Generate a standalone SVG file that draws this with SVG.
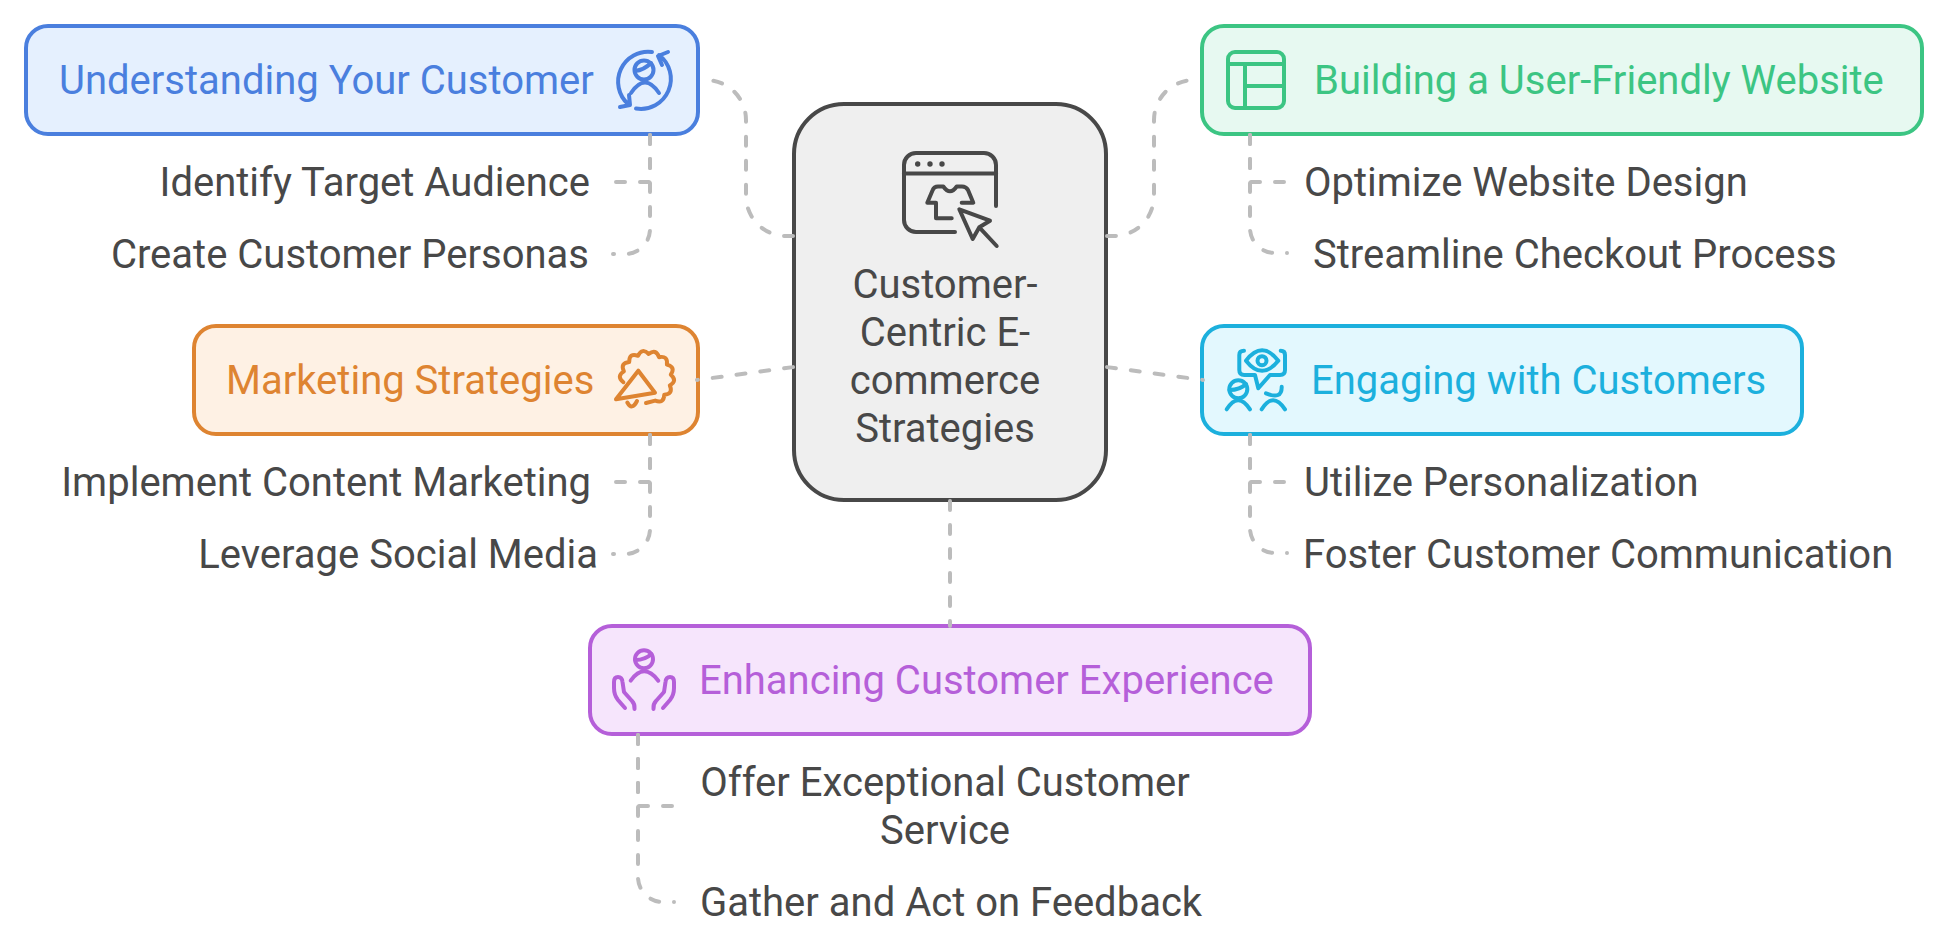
<svg xmlns="http://www.w3.org/2000/svg" width="1948" height="950" viewBox="0 0 1948 950">
<style>
text{font-family:Roboto,"Liberation Sans",sans-serif;font-size:40px;fill:#484848}
.box{stroke-width:4}
.ic{fill:none;stroke-width:4;stroke-linecap:round;stroke-linejoin:round}
.conn path{fill:none;stroke:#BCBCBC;stroke-width:4;stroke-linecap:round;stroke-dasharray:9 15;stroke-dashoffset:-1}
.m{text-anchor:middle}.e{text-anchor:end}
#n1 .box{fill:#E5F0FE;stroke:#4A7FDE}#n1 .ic{stroke:#4A7FDE}#n1 text{fill:#4A7FDE}
#n2 .box{fill:#E7F9F1;stroke:#3CC583}#n2 .ic{stroke:#3CC583}#n2 text{fill:#3CC583}
#n3 .box{fill:#FEF1E4;stroke:#DE8431}#n3 .ic{stroke:#DE8431}#n3 text{fill:#DE8431}
#n4 .box{fill:#E3F8FE;stroke:#1CB0DD}#n4 .ic{stroke:#1CB0DD}#n4 text{fill:#1CB0DD}
#n5 .box{fill:#F6E5FC;stroke:#B55FD9}#n5 .ic{stroke:#B55FD9}#n5 text{fill:#B55FD9}
</style>
<g id="center">
<rect x="794" y="104" width="312" height="396" rx="50" fill="#EFEFEF" stroke="#484848" stroke-width="4"/>
<g fill="none" stroke="#484848" stroke-width="4" stroke-linecap="round" stroke-linejoin="round">
<path d="M955 232H916A12 12 0 0 1 904 220V165A12 12 0 0 1 916 153H984A12 12 0 0 1 996 165V206"/>
<path d="M904 173.500H996"/>
<path d="M951.700 218.300H936V202.700H927.300L932.700 190Q934 186.500 938 186.500H943.300Q950 196 956.700 186.500H962Q966 186.500 968 190L973.300 202.700H961.700"/>
<path d="M959.300 209.300L990 220.700L979.300 227.300L972.700 239ZM979.300 227.300L996.700 246"/>
</g>
<circle cx="917.700" cy="164" r="2.700" fill="#484848"/><circle cx="930" cy="164" r="2.700" fill="#484848"/><circle cx="942" cy="164" r="2.700" fill="#484848"/>
<text class="m" x="945" y="298">Customer-</text>
<text class="m" x="945" y="346">Centric E-</text>
<text class="m" x="945" y="394">commerce</text>
<text class="m" x="945" y="442">Strategies</text>
</g>
<g id="n1">
<rect class="box" x="26" y="26" width="672" height="108" rx="22"/>
<text x="59" y="94">Understanding Your Customer</text>
<g class="ic">
<path d="M652 52A30 30 0 0 0 628 104M620 107L630 105L629 95"/>
<path d="M636 108.500A30 30 0 0 0 659 55M668 52L658 56L662 65"/>
<circle cx="644" cy="70" r="9.500"/><path d="M635 71Q644 70 651 63"/>
<path d="M631 93Q645 72 659 93"/>
</g>
</g>
<g id="n1a"><text class="e" x="590" y="196">Identify Target Audience</text></g>
<g id="n1b"><text class="e" x="589" y="268">Create Customer Personas</text></g>
<g id="n2">
<rect class="box" x="1202" y="26" width="720" height="108" rx="22"/>
<text x="1314" y="94">Building a User-Friendly Website</text>
<g class="ic">
<rect x="1228" y="52" width="56" height="56" rx="7"/>
<path d="M1228 64H1284M1245 64V108M1245 86H1284"/>
</g>
</g>
<g id="n2a"><text x="1304" y="196">Optimize Website Design</text></g>
<g id="n2b"><text x="1313" y="268">Streamline Checkout Process</text></g>
<g id="n3">
<rect class="box" x="194" y="326" width="504" height="108" rx="22"/>
<text x="226" y="394">Marketing Strategies</text>
<g class="ic">
<path d="M623.400 382.200Q616 376.400 623.900 371.400Q619.900 363 629.200 361.900Q629.200 352.600 638 355.800Q642.200 347.400 648.700 354Q656 348.400 659 357.200Q668.100 355.300 666.900 364.600Q676 366.900 670.800 374.700Q677.900 380.700 669.800 385.400Q673.600 394 664.300 394.700Q663.900 404 655.200 400.600L646 403"/>
<path d="M638.300 370.700L655 392.700L616 399.300Z"/>
<path d="M627.300 402.500Q632 411 637 401"/>
</g>
</g>
<g id="n3a"><text class="e" x="591" y="496">Implement Content Marketing</text></g>
<g id="n3b"><text class="e" x="598" y="568">Leverage Social Media</text></g>
<g id="n4">
<rect class="box" x="1202" y="326" width="600" height="108" rx="22"/>
<text x="1311" y="394">Engaging with Customers</text>
<g class="ic">
<path d="M1244 350.700Q1239.300 350.700 1239.300 355V370Q1239.300 375 1244.300 375H1255L1258.300 388.300L1270 375H1280Q1285 375 1285 370V355Q1285 350.700 1280.700 350.700"/>
<path d="M1246 360.700Q1262 340 1278.300 360.700Q1262 381 1246 360.700Z"/>
<circle cx="1262" cy="360.700" r="4.500"/>
<circle cx="1238.300" cy="389.300" r="9"/><path d="M1229.500 390Q1240 390 1246 384"/>
<path d="M1226.700 409.300Q1238 391 1250 409.300"/>
<path d="M1266 393.300Q1282 400 1281.700 386.700"/>
<path d="M1261.700 409.300Q1273 391 1285 409.300"/>
</g>
</g>
<g id="n4a"><text x="1304" y="496">Utilize Personalization</text></g>
<g id="n4b"><text x="1303" y="568">Foster Customer Communication</text></g>
<g id="n5">
<rect class="box" x="590" y="626" width="720" height="108" rx="22"/>
<text x="699" y="694">Enhancing Customer Experience</text>
<g class="ic">
<circle cx="644" cy="659.300" r="9"/><path d="M635.500 660Q645 660 651.500 654"/>
<path d="M630.700 680.700Q644 662 658.300 680.700"/>
<path d="M625 708L618 700Q614 695 614 688V682Q614 677 618 677Q622 677 622.500 682L624 692L632 701Q635 704 634.500 709"/>
<path d="M663 708L670 700Q674 695 674 688V682Q674 677 670 677Q666 677 665.500 682L664 692L656 701Q653 704 653.500 709"/>
</g>
</g>
<g id="n5a"><text class="m" x="945" y="796">Offer Exceptional Customer</text><text class="m" x="945" y="844">Service</text></g>
<g id="n5b"><text x="700" y="916">Gather and Act on Feedback</text></g>
<g id="connectors" class="conn">
<path d="M794 236H786A40 40 0 0 1 746 196V120A40 40 0 0 0 706 80H703"/>
<path d="M1106 236H1114A40 40 0 0 0 1154 196V120A40 40 0 0 1 1194 80H1197"/>
<path d="M794 367L697 380"/>
<path d="M1106 367L1203 380"/>
<path d="M950 500V626"/>
<path d="M650 134V182H614"/>
<path d="M650 134V229A25 25 0 0 1 625 254H613"/>
<path d="M1250 134V182H1286"/>
<path d="M1250 134V228A25 25 0 0 0 1275 253H1287"/>
<path d="M650 434V482H614"/>
<path d="M650 434V529A25 25 0 0 1 625 554H613"/>
<path d="M1250 434V482H1286"/>
<path d="M1250 434V528A25 25 0 0 0 1275 553H1287"/>
<path d="M638 734V806H675"/>
<path d="M638 734V877A25 25 0 0 0 663 902H674"/>
</g>
</svg>
